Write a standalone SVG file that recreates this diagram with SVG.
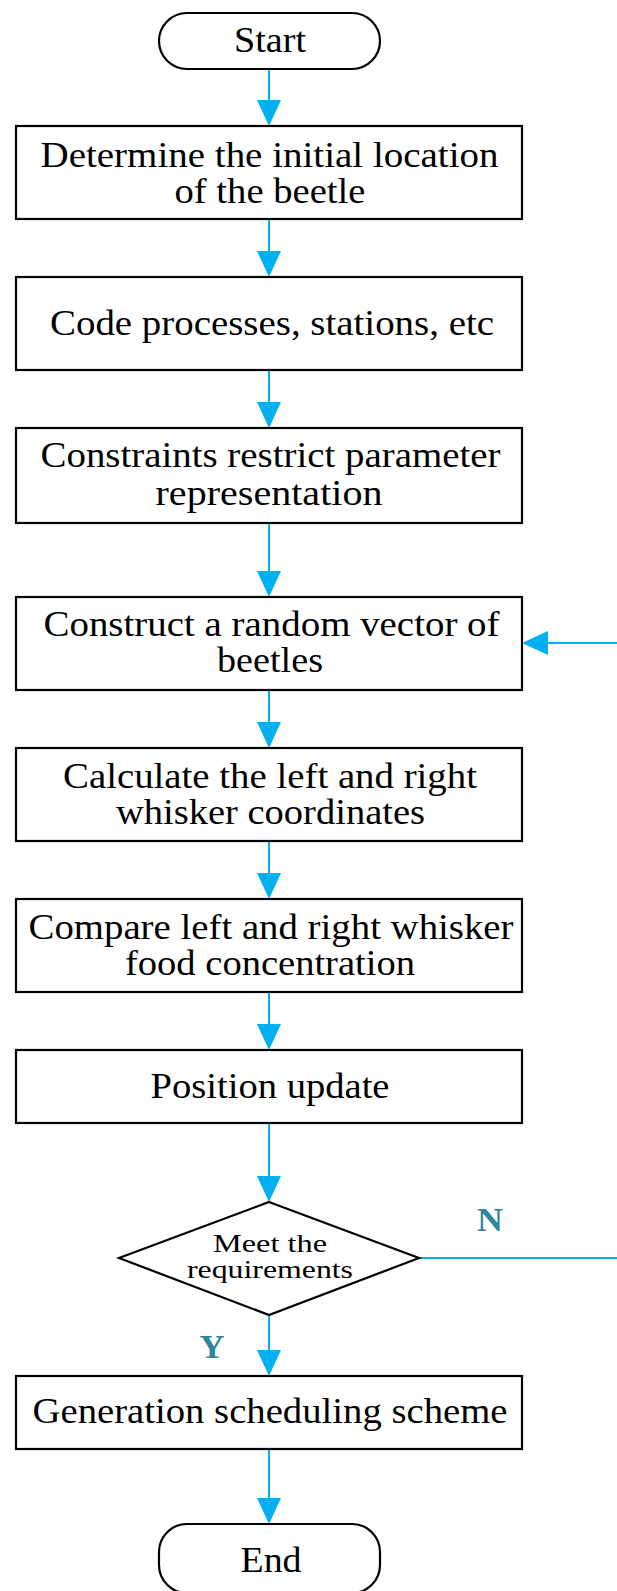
<svg xmlns="http://www.w3.org/2000/svg" width="617" height="1591" viewBox="0 0 617 1591">
  <defs>
    <style>
      .box { fill: #ffffff; stroke: #000000; stroke-width: 2.2; }
      .t { font-family: "Liberation Serif", "Times New Roman", serif; font-size: 35px; fill: #000000; text-anchor: middle; }
      .ts { font-family: "Liberation Serif", "Times New Roman", serif; font-size: 25px; fill: #000000; text-anchor: middle; }
      .lbl { font-family: "Liberation Serif", "Times New Roman", serif; font-size: 33px; font-weight: bold; fill: #31859C; text-anchor: middle; }
      .con { fill: none; stroke: #00B0F0; stroke-width: 2; }
      .ah { fill: #00B0F0; }
    </style>
  </defs>
  <rect width="617" height="1591" fill="#ffffff"/>

  <g id="connectors">
    <line class="con" x1="269" y1="69" x2="269" y2="100"/>
    <path class="ah" d="M257,100 L281,100 L269,126 Z"/>
    <line class="con" x1="269" y1="219" x2="269" y2="251"/>
    <path class="ah" d="M257,251 L281,251 L269,277 Z"/>
    <line class="con" x1="269" y1="370" x2="269" y2="402"/>
    <path class="ah" d="M257,402 L281,402 L269,428 Z"/>
    <line class="con" x1="269" y1="523" x2="269" y2="571"/>
    <path class="ah" d="M257,571 L281,571 L269,597 Z"/>
    <line class="con" x1="269" y1="690" x2="269" y2="722"/>
    <path class="ah" d="M257,722 L281,722 L269,748 Z"/>
    <line class="con" x1="269" y1="841" x2="269" y2="873"/>
    <path class="ah" d="M257,873 L281,873 L269,899 Z"/>
    <line class="con" x1="269" y1="992" x2="269" y2="1024"/>
    <path class="ah" d="M257,1024 L281,1024 L269,1050 Z"/>
    <line class="con" x1="269" y1="1123" x2="269" y2="1176"/>
    <path class="ah" d="M257,1176 L281,1176 L269,1202 Z"/>
    <line class="con" x1="269" y1="1315" x2="269" y2="1350"/>
    <path class="ah" d="M257,1350 L281,1350 L269,1376 Z"/>
    <line class="con" x1="269" y1="1449" x2="269" y2="1498"/>
    <path class="ah" d="M257,1498 L281,1498 L269,1524 Z"/>
    <path class="con" d="M419,1258 H640 V643 H548"/>
    <path class="ah" d="M548,631 L548,655 L522,643 Z"/>
    <text class="lbl" x="490" y="1231" textLength="26" lengthAdjust="spacingAndGlyphs">N</text>
    <text class="lbl" x="212" y="1358" textLength="25" lengthAdjust="spacingAndGlyphs">Y</text>
  </g>

  <g id="start">
    <rect class="box" x="159" y="13" width="221" height="56" rx="28" ry="28"/>
    <text class="t" x="270" y="52" textLength="72" lengthAdjust="spacingAndGlyphs">Start</text>
  </g>
  <g id="n1">
    <rect class="box" x="16" y="126" width="506" height="93"/>
    <text class="t" x="269.5" y="167" textLength="458" lengthAdjust="spacingAndGlyphs">Determine the initial location</text>
    <text class="t" x="270" y="203" textLength="191" lengthAdjust="spacingAndGlyphs">of the beetle</text>
  </g>
  <g id="n2">
    <rect class="box" x="16" y="277" width="506" height="93"/>
    <text class="t" x="272" y="335" textLength="444" lengthAdjust="spacingAndGlyphs">Code processes, stations, etc</text>
  </g>
  <g id="n3">
    <rect class="box" x="16" y="428" width="506" height="95"/>
    <text class="t" x="270.5" y="467" textLength="460" lengthAdjust="spacingAndGlyphs">Constraints restrict parameter</text>
    <text class="t" x="269" y="505" textLength="227" lengthAdjust="spacingAndGlyphs">representation</text>
  </g>
  <g id="n4">
    <rect class="box" x="16" y="597" width="506" height="93"/>
    <text class="t" x="271.5" y="636" textLength="456" lengthAdjust="spacingAndGlyphs">Construct a random vector of</text>
    <text class="t" x="270" y="672" textLength="106" lengthAdjust="spacingAndGlyphs">beetles</text>
  </g>
  <g id="n5">
    <rect class="box" x="16" y="748" width="506" height="93"/>
    <text class="t" x="270" y="787.5" textLength="414" lengthAdjust="spacingAndGlyphs">Calculate the left and right</text>
    <text class="t" x="270.5" y="823.5" textLength="309" lengthAdjust="spacingAndGlyphs">whisker coordinates</text>
  </g>
  <g id="n6">
    <rect class="box" x="16" y="899" width="506" height="93"/>
    <text class="t" x="271" y="938.5" textLength="485" lengthAdjust="spacingAndGlyphs">Compare left and right whisker</text>
    <text class="t" x="270" y="974.5" textLength="290" lengthAdjust="spacingAndGlyphs">food concentration</text>
  </g>
  <g id="n7">
    <rect class="box" x="16" y="1050" width="506" height="73"/>
    <text class="t" x="270" y="1098" textLength="239" lengthAdjust="spacingAndGlyphs">Position update</text>
  </g>
  <g id="decision">
    <polygon class="box" points="269,1202 419,1258 269,1315 119,1258"/>
    <text class="ts" x="270" y="1252" textLength="114" lengthAdjust="spacingAndGlyphs">Meet the</text>
    <text class="ts" x="270" y="1278" textLength="166" lengthAdjust="spacingAndGlyphs">requirements</text>
  </g>
  <g id="n8">
    <rect class="box" x="16" y="1376" width="506" height="73"/>
    <text class="t" x="270" y="1423" textLength="475" lengthAdjust="spacingAndGlyphs">Generation scheduling scheme</text>
  </g>
  <g id="end">
    <rect class="box" x="159" y="1524" width="221" height="69" rx="28" ry="28"/>
    <text class="t" x="271" y="1572" textLength="61" lengthAdjust="spacingAndGlyphs">End</text>
  </g>
</svg>
